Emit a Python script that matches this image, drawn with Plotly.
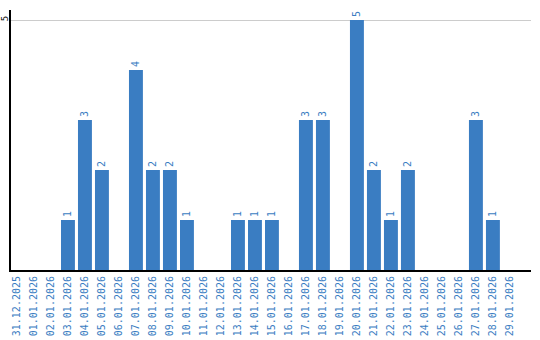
import plotly.graph_objects as go

dates = ["31.12.2025", "01.01.2026", "02.01.2026", "03.01.2026", "04.01.2026", "05.01.2026",
         "06.01.2026", "07.01.2026", "08.01.2026", "09.01.2026", "10.01.2026", "11.01.2026",
         "12.01.2026", "13.01.2026", "14.01.2026", "15.01.2026", "16.01.2026", "17.01.2026",
         "18.01.2026", "19.01.2026", "20.01.2026", "21.01.2026", "22.01.2026", "23.01.2026",
         "24.01.2026", "25.01.2026", "26.01.2026", "27.01.2026", "28.01.2026", "29.01.2026"]
counts = [0, 0, 0, 1, 3, 2, 0, 4, 2, 2, 1, 0, 0, 1, 1, 1, 0, 3, 3, 0, 5, 2, 1, 2, 0, 0, 0, 3, 1, 0]
y_ticks = [5]

blue = "#3a7dc2"
mono = "DejaVu Sans Mono"

fig = go.Figure(go.Bar(
    x=dates, y=counts,
    text=[str(v) if v > 0 else "" for v in counts],
    textposition="outside", textangle=-90,
    textfont=dict(family=mono, size=10, color=blue),
    marker=dict(color=blue, line=dict(width=0)),
    cliponaxis=False,
))

fig.update_layout(
    width=540, height=340,
    margin=dict(l=11, r=9, t=10, b=70),
    paper_bgcolor="white", plot_bgcolor="white",
    bargap=0.18,
    showlegend=False,
    xaxis=dict(type="category", range=[-0.35, 30.24], tickangle=-90,
               tickfont=dict(family=mono, size=10, color=blue),
               showline=True, linecolor="black", linewidth=2, ticks="",
               showgrid=False, automargin=False),
    yaxis=dict(range=[0, 5.2], tickvals=y_ticks, tickangle=-90,
               tickfont=dict(family=mono, size=9, color="black"),
               showline=True, linecolor="black", linewidth=2, ticks="",
               ticklabelstandoff=-3,
               showgrid=True, gridcolor="#cccccc", gridwidth=1,
               zeroline=False, automargin=False),
)

fig.write_html("out.html")
